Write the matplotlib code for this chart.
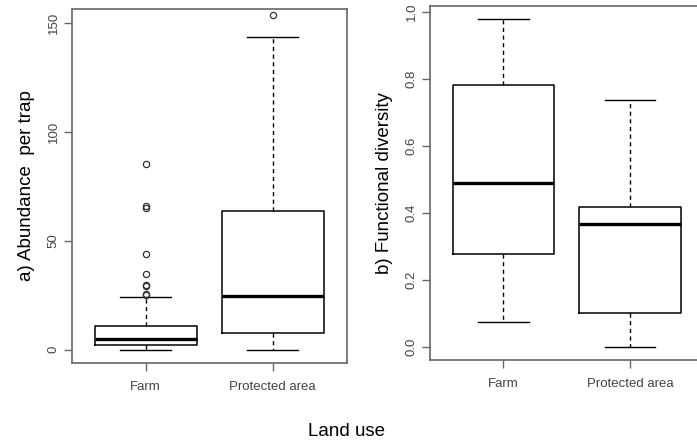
import matplotlib
matplotlib.use("Agg")
import matplotlib.pyplot as plt

plt.rcParams['font.family'] = ['Liberation Sans', 'DejaVu Sans']

groups = ["Farm", "Protected area"]

# abundance per trap: box stats
ab_low = [0, 0]
ab_q1 = [2.1, 7.5]
ab_med = [5.0, 24.6]
ab_q3 = [11.0, 63.4]
ab_high = [24.3, 143.3]
ab_fliers = [[85.2, 65.7, 65.0, 44.0, 34.9, 29.7, 29.0, 25.7, 25.0], [153.3]]

# functional diversity
fd_low = [0.076, 0.0]
fd_q1 = [0.278, 0.101]
fd_med = [0.489, 0.366]
fd_q3 = [0.783, 0.419]
fd_high = [0.977, 0.738]
fd_fliers = [[], []]

W, H = 697, 443
fig = plt.figure(figsize=(W / 100, H / 100), dpi=100)
frame_col = '#666666'
tick_col = '#444444'


def make_stats(low, q1, med, q3, high, fliers):
    out = []
    for i, g in enumerate(groups):
        out.append(dict(label=g, whislo=low[i], q1=q1[i], med=med[i],
                        q3=q3[i], whishi=high[i], fliers=fliers[i]))
    return out


def draw(ax, stats, ylab, ylim, yticks, yticklabels):
    ax.bxp(stats, positions=[1, 2], widths=0.8, capwidths=0.4,
           boxprops=dict(color='black', lw=1.1),
           medianprops=dict(color='black', lw=2.4),
           whiskerprops=dict(color='black', lw=1.0, ls=(0, (3, 2.5))),
           capprops=dict(color='black', lw=1.0),
           flierprops=dict(marker='o', markersize=4.5, markerfacecolor='none',
                           markeredgecolor='#333333', markeredgewidth=0.9))
    ax.set_xlim(0.42, 2.58)
    ax.set_ylim(*ylim)
    ax.set_yticks(yticks)
    ax.set_yticklabels(yticklabels, rotation=90, va='center', fontsize=9.5, color=tick_col)
    ax.set_xticks([1, 2])
    ax.set_xticklabels(groups, fontsize=9.5, color=tick_col)
    ax.tick_params(axis='both', direction='out', length=6, width=1.0, color=frame_col, pad=3)
    ax.tick_params(axis='x', pad=7)
    for s in ax.spines.values():
        s.set_color(frame_col)
        s.set_linewidth(1.2)
    ax.set_ylabel(ylab, fontsize=13.5, labelpad=9)


ax1 = fig.add_axes([72 / W, (H - 363) / H, (346.5 - 72) / W, (363 - 9) / H])
draw(ax1, make_stats(ab_low, ab_q1, ab_med, ab_q3, ab_high, ab_fliers),
     "a) Abundance  per trap", (-6.1, 156.2), [0, 50, 100, 150], ["0", "50", "100", "150"])

ax2 = fig.add_axes([430 / W, (H - 360) / H, (703.5 - 430) / W, (360 - 6) / H])
draw(ax2, make_stats(fd_low, fd_q1, fd_med, fd_q3, fd_high, fd_fliers),
     "b) Functional diversity", (-0.038, 1.017), [0, 0.2, 0.4, 0.6, 0.8, 1.0],
     ["0.0", "0.2", "0.4", "0.6", "0.8", "1.0"])

fig.text(347 / W, 1 - 431 / H, "Land use", ha='center', va='center', fontsize=13.5)

fig.savefig("out.png", dpi=100)
